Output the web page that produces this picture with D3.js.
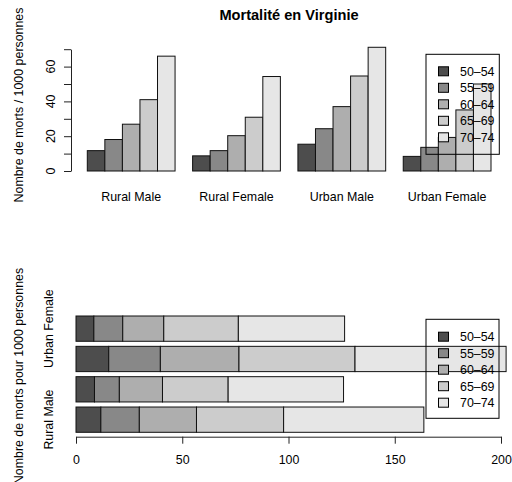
<!DOCTYPE html>
<html>
<head>
<meta charset="utf-8">
<script src="https://cdn.jsdelivr.net/npm/d3@7"></script>
<style>
body { margin: 0; background: #fff; }
text { font-family: "Liberation Sans", Arial, sans-serif; font-size: 12.4px; fill: #000; }
</style>
</head>
<body>
<div id="chart"></div>
<script>
// VADeaths: death rates per 1000, by age group (rows) and population group (columns)
var regions = ["Rural Male", "Rural Female", "Urban Male", "Urban Female"],
  ages = ["50\u201354", "55\u201359", "60\u201364", "65\u201369", "70\u201374"],
  age5054 = [11.7, 8.7, 15.4, 8.4],
  age5559 = [18.1, 11.7, 24.3, 13.6],
  age6064 = [26.9, 20.3, 37.0, 19.3],
  age6569 = [41.0, 30.9, 54.6, 35.1],
  age7074 = [66.0, 54.3, 71.1, 50.0],
  series = [age5054, age5559, age6064, age6569, age7074],
  topTicks = [0, 10, 20, 30, 40, 50, 60, 70],
  topLabels = [0, 20, 40, 60],
  bottomTicks = [0, 50, 100, 150, 200];

var width = 512,
  height = 482,
  grays = ["#4d4d4d", "#888888", "#aeaeae", "#cccccc", "#e6e6e6"];

var svg = d3.select("#chart").append("svg")
  .attr("width", width)
  .attr("height", height);

// ---------- top panel: grouped bars ----------
var xTop = d3.scaleLinear().domain([1, 24]).range([87.3, 491]),
  yTop = d3.scaleLinear().domain([0, 70]).range([171, 49.2]),
  barW = xTop(2) - xTop(1);

var groupedData = [];
regions.forEach(function(r, g) {
  series.forEach(function(s, k) {
    groupedData.push({ g: g, k: k, v: s[g] });
  });
});

var topPanel = svg.append("g");

topPanel.selectAll(".bar")
  .data(groupedData).enter().append("rect")
  .attr("class", "bar")
  .attr("x", function(d) { return xTop(1 + d.g * 6 + d.k); })
  .attr("y", function(d) { return yTop(d.v); })
  .attr("width", barW)
  .attr("height", function(d) { return yTop(0) - yTop(d.v); })
  .style("fill", function(d) { return grays[d.k]; })
  .style("stroke", "#111")
  .style("stroke-width", 1);

topPanel.append("g")
  .attr("transform", "translate(71,0)")
  .call(d3.axisLeft(yTop).tickValues(topTicks).tickSize(7).tickSizeOuter(0).tickFormat(""))
  .call(function(g) { g.selectAll("path,line").style("stroke", "#222"); });

topPanel.selectAll(".ylab")
  .data(topLabels).enter().append("text")
  .attr("transform", function(d) { return "translate(55," + yTop(d) + ") rotate(-90)"; })
  .style("text-anchor", "middle")
  .text(function(d) { return d; });

topPanel.selectAll(".xlab")
  .data(regions).enter().append("text")
  .attr("x", function(d, i) { return xTop(1 + i * 6 + 2.5); })
  .attr("y", 201)
  .style("text-anchor", "middle")
  .text(function(d) { return d; });

svg.append("text")
  .attr("x", 289)
  .attr("y", 19.5)
  .style("text-anchor", "middle")
  .style("font-weight", "bold")
  .style("font-size", "14.6px")
  .text("Mortalité en Virginie");

svg.append("text")
  .attr("transform", "translate(23,105) rotate(-90)")
  .style("text-anchor", "middle")
  .text("Nombre de morts / 1000 personnes");

function legend(x0, y0, w, h, firstRow) {
  var lg = svg.append("g");
  lg.append("rect")
    .attr("x", x0).attr("y", y0).attr("width", w).attr("height", h)
    .style("fill", "none").style("stroke", "#000");
  var items = lg.selectAll(".item")
    .data(ages).enter().append("g")
    .attr("transform", function(d, i) { return "translate(0," + (firstRow + i * 16.5) + ")"; });
  items.append("rect")
    .attr("x", 438.5).attr("y", -4.5).attr("width", 10).attr("height", 9)
    .style("fill", function(d, i) { return grays[i]; })
    .style("stroke", "#000");
  items.append("text")
    .attr("x", 460).attr("y", 4.3)
    .text(function(d) { return d; });
}
legend(426, 54.3, 73.3, 100, 71.3);

// ---------- bottom panel: stacked horizontal bars ----------
var xBot = d3.scaleLinear().domain([0, 200]).range([76, 501]),
  yBot = d3.scaleLinear().domain([0.2, 4.8]).range([432.3, 316]);

var rows = regions.map(function(r, i) {
  var o = { region: r, idx: i };
  ages.forEach(function(a, k) { o[a] = series[k][i]; });
  return o;
});
var stacked = d3.stack().keys(ages)(rows);

var bottomPanel = svg.append("g");

bottomPanel.selectAll(".layer")
  .data(stacked).enter().append("g")
  .style("fill", function(d, k) { return grays[k]; })
  .selectAll("rect")
  .data(function(d) { return d; }).enter().append("rect")
  .attr("x", function(d) { return xBot(d[0]); })
  .attr("y", function(d) { return yBot(1.2 + 1.2 * d.data.idx); })
  .attr("width", function(d) { return xBot(d[1]) - xBot(d[0]); })
  .attr("height", function(d) { return yBot(0.2) - yBot(1.2); })
  .style("stroke", "#111")
  .style("stroke-width", 1);

bottomPanel.append("g")
  .attr("transform", "translate(0,436.7)")
  .call(d3.axisBottom(xBot).tickValues(bottomTicks).tickSize(7).tickSizeOuter(0).tickPadding(12))
  .call(function(g) {
    g.selectAll("path,line").style("stroke", "#222");
    g.selectAll("text").style("font-size", null).style("font-family", null);
  });

// category names, skipping any that would overlap (as R does)
var lastEdge = Infinity;
regions.forEach(function(r, i) {
  var cy = yBot(0.7 + 1.2 * i);
  var t = bottomPanel.append("text")
    .attr("transform", "translate(53," + cy + ") rotate(-90)")
    .style("text-anchor", "middle")
    .text(r);
  var half = t.node().getComputedTextLength() / 2;
  if (cy + half + 4 > lastEdge) { t.remove(); }
  else { lastEdge = cy - half; }
});

svg.append("text")
  .attr("transform", "translate(23,376) rotate(-90)")
  .style("text-anchor", "middle")
  .text("Nombre de morts pour 1000 personnes");

legend(426, 319.3, 73, 99, 336.7);
</script>
</body>
</html>
